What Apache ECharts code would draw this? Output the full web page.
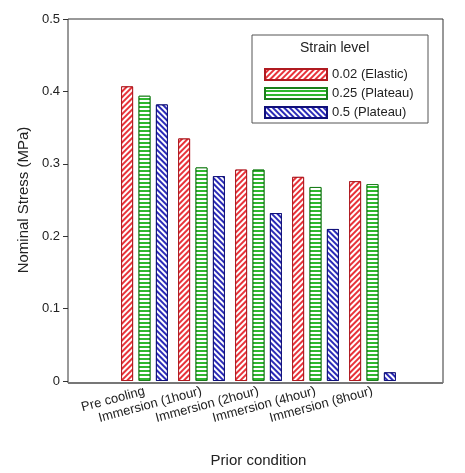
<!DOCTYPE html>
<html><head><meta charset="utf-8">
<script src="https://cdn.jsdelivr.net/npm/echarts@6/dist/echarts.min.js"></script>
<style>html,body{margin:0;background:#fff}#c{width:465px;height:473px}</style>
</head><body><div id="c"></div>
<script>
const categories = ['Pre cooling', 'Immersion (1hour)', 'Immersion (2hour)', 'Immersion (4hour)', 'Immersion (8hour)'];
const elastic = [0.407, 0.335, 0.292, 0.282, 0.276];
const plateau25 = [0.394, 0.295, 0.292, 0.268, 0.272];
const plateau5 = [0.382, 0.283, 0.232, 0.210, 0.012];
const yTicks = [0, 0.1, 0.2, 0.3, 0.4, 0.5];

function stripe(rot) {
  return { color: '#fff', symbol: 'rect', dashArrayX: [1, 0], dashArrayY: [1.5, 1.5], rotation: rot, symbolSize: 1 };
}
function bar(name, data, color, border, rot) {
  return {
    name, type: 'bar', data, barWidth: 12, barGap: '45%',
    itemStyle: { color, borderColor: border, borderWidth: 1, decal: stripe(rot) }
  };
}

const chart = echarts.init(document.getElementById('c'));
chart.setOption({
  animation: false,
  textStyle: { fontFamily: 'Liberation Sans, Arial' },
  grid: { left: 116, right: 64, top: 19, bottom: 90 },
  legend: {
    orient: 'vertical', left: 259, top: 63, itemWidth: 62, itemHeight: 11, itemGap: 6,
    icon: 'rect',
    textStyle: { fontSize: 13, color: '#222' },
    data: ['0.02 (Elastic)', '0.25 (Plateau)', '0.5 (Plateau)']
  },
  xAxis: {
    type: 'category', data: categories,
    axisLine: { show: false }, axisTick: { show: false },
    axisLabel: { rotate: 15, fontSize: 13, color: '#222', margin: 10, interval: 0, padding: [0, 0, 0, 0], align: 'right', verticalAlign: 'middle', offset: [30, 0] },
    name: 'Prior condition', nameLocation: 'middle', nameGap: 72,
    nameTextStyle: { fontSize: 15, color: '#222' }
  },
  yAxis: {
    type: 'value', min: 0, max: 0.5, interval: 0.1, offset: 48,
    axisLine: { show: false }, splitLine: { show: false },
    axisTick: { show: true, length: 5, lineStyle: { color: '#333' } },
    axisLabel: { fontSize: 13, color: '#222', formatter: v => yTicks.includes(+v.toFixed(1)) ? (v === 0 ? '0' : v.toFixed(1)) : '' },
    name: 'Nominal Stress (MPa)', nameLocation: 'middle', nameGap: 36,
    nameTextStyle: { fontSize: 15, color: '#222' }
  },
  graphic: [
    { type: 'rect', shape: { x: 68, y: 19, width: 375, height: 364 }, style: { fill: 'none', stroke: '#333', lineWidth: 1 } },
    { type: 'line', shape: { x1: 68, y1: 383, x2: 443, y2: 383 }, style: { stroke: '#777', lineWidth: 2 } },
    { type: 'rect', shape: { x: 252, y: 35, width: 176, height: 88 }, style: { fill: 'none', stroke: '#555', lineWidth: 1 } },
    { type: 'text', left: 300, top: 41, style: { text: 'Strain level', fontSize: 14, fill: '#222', fontFamily: 'Liberation Sans, Arial' } }
  ],
  series: [
    bar('0.02 (Elastic)', elastic, '#e8333a', '#b01a20', -Math.PI / 4),
    bar('0.25 (Plateau)', plateau25, '#2fb82f', '#1a7f1a', 0),
    bar('0.5 (Plateau)', plateau5, '#2b2bb8', '#10107a', Math.PI / 4)
  ]
});
</script></body></html>
